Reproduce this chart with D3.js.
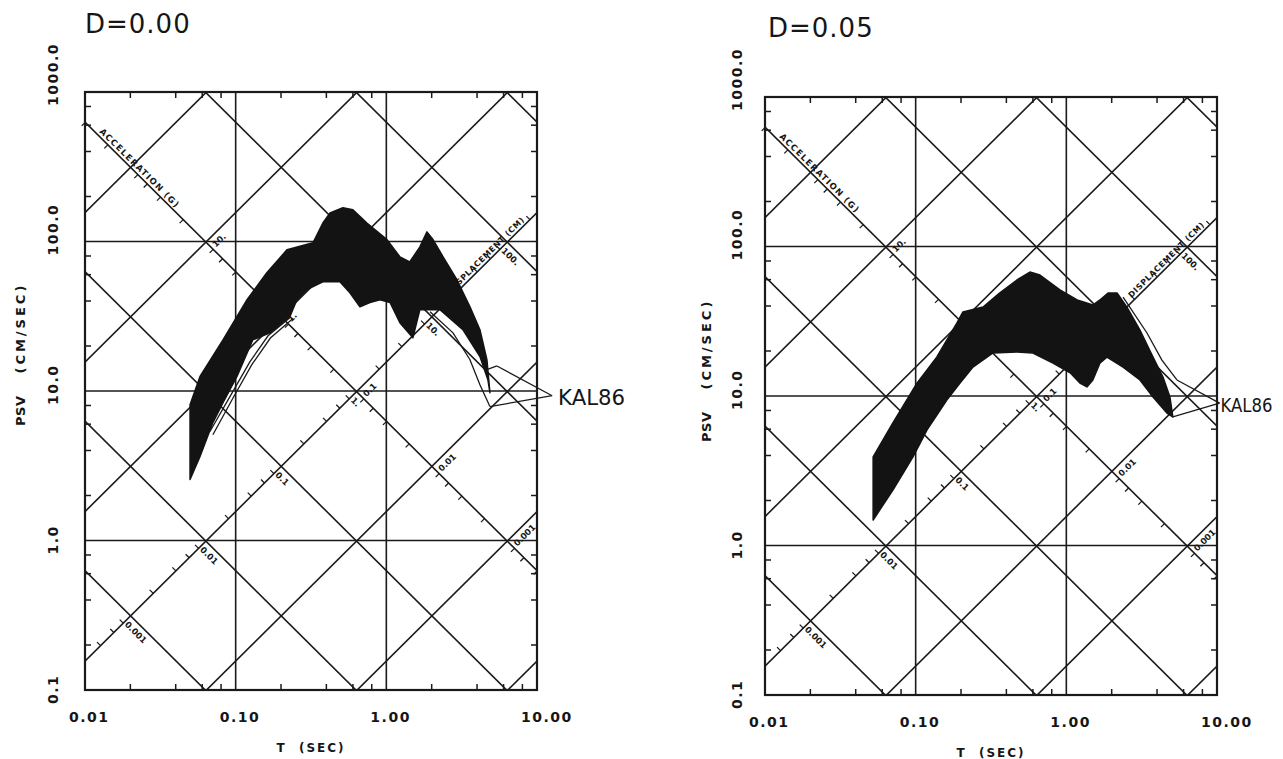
<!DOCTYPE html>
<html><head><meta charset="utf-8">
<script src="https://cdn.jsdelivr.net/npm/d3@7"></script>
<style>
html,body{margin:0;padding:0;background:#fff;}
svg{display:block;}
text{font-family:"DejaVu Sans",sans-serif;fill:#161616;}
</style></head><body>
<svg id="chart" width="1283" height="759"></svg>
<script>
// ---------------- data ----------------
const panelTitles = ["D=0.00", "D=0.05"];
const periodTicks = [0.01, 0.1, 1, 10];
const periodTickLabels = ["0.01", "0.10", "1.00", "10.00"];
const psvTicks = [0.1, 1, 10, 100, 1000];
const psvTickLabels = ["0.1", "1.0", "10.0", "100.0", "1000.0"];
const dispGridValues = [1e-5, 1e-4, 1e-3, 1e-2, 1e-1, 1, 10, 100, 1000, 1e4];   // cm
const accGridValues = [1e-5, 1e-4, 1e-3, 1e-2, 1e-1, 1, 10, 100, 1000, 1e4];    // g
const dispTickValues = [0.001, 0.01, 0.1, 1, 10, 100];
const dispTickLabels = ["0.001", "0.01", "0.1", "1.", "10.", "100."];
const accTickValues = [10, 1, 0.1, 0.01, 0.001];
const accTickLabels = ["10.", "1.", "0.1", "0.01", "0.001"];
const recordLabel = "KAL86";

// D = 0.00 : envelope of the spectra
const d0UpperT   = [0.0498,0.058,0.0824,0.119,0.161,0.219,0.326,0.379,0.423,0.515,0.600,0.743,1.01,1.23,1.43,1.67,1.86,2.04,2.38,2.94,3.59,4.18,4.65,4.87];
const d0UpperPSV = [8.1,12.5,22.0,40.8,61.8,88,98,133,155,168,163,133,103,79,73,92,116,103,79,55.5,36.6,25.7,16.2,9.75];
const d0LowerT   = [0.0498,0.058,0.0706,0.0824,0.102,0.130,0.169,0.229,0.255,0.297,0.379,0.492,0.573,0.668,0.778,0.907,1.06,1.23,1.50,1.67,1.86,2.27,3.22,4.18,4.72,4.87];
const d0LowerPSV = [2.56,3.65,6.15,8.37,12.5,22.0,24.5,31.4,40.8,47.6,53.8,53.8,45.4,36.6,39.0,40.8,39.0,28.6,22.7,35.0,35.0,35.0,25.7,17.0,11.9,9.75];
const d0OutlierAT   = [0.0675,0.0916,0.1245,0.164,0.229];
const d0OutlierAPSV = [5.36,9.18,15.7,23.4,30.9];
const d0OutlierBT   = [0.0706,0.095,0.128,0.17,0.24];
const d0OutlierBPSV = [5.1,8.8,15.0,22.6,30.5];
const d0KalLowerT   = [1.95,2.77,3.59,4.18,4.87];
const d0KalLowerPSV = [33.9,24.5,16.2,11.0,7.87];
const d0KalUpperT   = [4.65,5.42];
const d0KalUpperPSV = [13.9,14.7];
const d0LabelAt     = [12.6, 9.3];

// D = 0.05 : envelope of the spectra
const d5UpperT   = [0.0522,0.0706,0.102,0.138,0.188,0.206,0.280,0.362,0.470,0.573,0.668,0.907,1.18,1.50,1.67,1.89,2.17,2.52,3.08,3.76,4.38,4.87,5.09];
const d5UpperPSV = [3.91,6.6,12.2,18.2,30.8,36.5,39.4,48.9,59.7,67.5,64.4,51.2,43.9,40.6,43.9,48.9,48.9,39.4,27.6,18.2,13.4,9.85,7.24];
const d5LowerT   = [0.0522,0.0706,0.096,0.119,0.161,0.197,0.240,0.326,0.470,0.600,0.815,1.06,1.23,1.37,1.50,1.67,1.86,2.38,3.08,3.76,4.65,5.09];
const d5LowerPSV = [1.48,2.35,3.91,5.93,9.4,12.2,15.6,19.4,19.7,19.4,16.6,14.3,12.2,11.5,12.8,16.6,18.2,15.6,12.8,9.85,7.69,7.24];
const d5KalUpperT   = [2.38,3.43,4.31,5.42];
const d5KalUpperPSV = [45.9,26.4,17.4,12.8];
const d5KalLowerT   = [4.87,5.09];
const d5KalLowerPSV = [7.6,7.24];
const d5LabelAt     = [10.4, 8.97];

// ---------------- layout ----------------
const TWO_PI = 2 * Math.PI, G = 981;
const zip = (a, b) => a.map((v, i) => [v, b[i]]);

const panels = [
  { id: 0, title: panelTitles[0], x0: 85, x1: 537, y0: 92, y1: 690, titleX: 85, titleY: 33,
    yLabX: 58, psvTitleX: 25, psvTitleY: 426, labelDx: 6, labelSize: 22, labelLen: 67,
    upper: zip(d0UpperT, d0UpperPSV), lower: zip(d0LowerT, d0LowerPSV),
    thin: [zip(d0OutlierAT, d0OutlierAPSV), zip(d0OutlierBT, d0OutlierBPSV), zip(d0KalLowerT, d0KalLowerPSV), zip(d0KalUpperT, d0KalUpperPSV)],
    kalEnds: [zip(d0KalUpperT, d0KalUpperPSV), zip(d0KalLowerT, d0KalLowerPSV)], labelAt: d0LabelAt },
  { id: 1, title: panelTitles[1], x0: 765, x1: 1217, y0: 97, y1: 695, titleX: 768, titleY: 37,
    yLabX: 742, psvTitleX: 711, psvTitleY: 442, labelDx: 1, labelSize: 20, labelLen: 52,
    upper: zip(d5UpperT, d5UpperPSV), lower: zip(d5LowerT, d5LowerPSV),
    thin: [zip(d5KalUpperT, d5KalUpperPSV), zip(d5KalLowerT, d5KalLowerPSV)],
    kalEnds: [zip(d5KalUpperT, d5KalUpperPSV), zip(d5KalLowerT, d5KalLowerPSV)], labelAt: d5LabelAt }
];

const svg = d3.select("#chart");
const INK = "#1a1a1a";

function drawPanel(p) {
  const x = d3.scaleLog().domain([0.01, 10]).range([p.x0, p.x1]);
  const y = d3.scaleLog().domain([0.1, 1000]).range([p.y1, p.y0]);
  const line = d3.line().x(d => x(d[0])).y(d => y(d[1]));
  const pt = (t, v) => [x(t), y(v)];
  const inside = q => q[0] >= p.x0 - 0.5 && q[0] <= p.x1 + 0.5 && q[1] >= p.y0 - 0.5 && q[1] <= p.y1 + 0.5;
  const unit = (a, b) => { const dx = b[0] - a[0], dy = b[1] - a[1], L = Math.hypot(dx, dy); return [dx / L, dy / L]; };

  const clipId = "clip" + p.id;
  svg.append("clipPath").attr("id", clipId).append("rect")
    .attr("x", p.x0).attr("y", p.y0).attr("width", p.x1 - p.x0).attr("height", p.y1 - p.y0);

  const g = svg.append("g");
  const grid = g.append("g").attr("clip-path", `url(#${clipId})`)
    .attr("stroke", INK).attr("fill", "none").attr("stroke-width", 1.6);

  periodTicks.slice(1, -1).forEach(t =>
    grid.append("line").attr("x1", x(t)).attr("x2", x(t)).attr("y1", p.y0).attr("y2", p.y1));
  psvTicks.slice(1, -1).forEach(v =>
    grid.append("line").attr("x1", p.x0).attr("x2", p.x1).attr("y1", y(v)).attr("y2", y(v)));

  const Tdom = [0.001, 100];
  dispGridValues.forEach(sd => grid.append("path").attr("d", line(Tdom.map(t => [t, TWO_PI * sd / t]))));
  accGridValues.forEach(a => grid.append("path").attr("d", line(Tdom.map(t => [t, a * G * t / TWO_PI]))));

  // pixel directions of the diagonal families
  const u = unit(pt(0.1, TWO_PI * 1 / 0.1), pt(1, TWO_PI * 1 / 1));          // constant SD, down-right
  const v = unit(pt(0.1, 0.1 * G * 0.1 / TWO_PI), pt(1, 0.1 * G * 1 / TWO_PI)); // constant SA, up-right
  const angU = Math.atan2(u[1], u[0]) * 180 / Math.PI;
  const angV = Math.atan2(v[1], v[0]) * 180 / Math.PI;

  const diag = g.append("g");
  const accPos = a => { const T = TWO_PI * Math.sqrt(1 / (a * G)); return pt(T, TWO_PI / T); };
  const dispPos = sd => { const T = TWO_PI * Math.sqrt(sd / (0.1 * G)); return pt(T, TWO_PI * sd / T); };
  const minorM = [2, 4, 6, 8];
  for (let k = -5; k <= 3; k++) {
    minorM.forEach(m => {
      const a = m * Math.pow(10, k);
      const q = accPos(a);
      if (inside(q)) diag.append("line").attr("x1", q[0]).attr("y1", q[1])
        .attr("x2", q[0] - 5 * v[0]).attr("y2", q[1] - 5 * v[1]).attr("stroke", INK).attr("stroke-width", 1.3);
      const q2 = dispPos(a);
      if (inside(q2)) diag.append("line").attr("x1", q2[0]).attr("y1", q2[1])
        .attr("x2", q2[0] - 5 * u[0]).attr("y2", q2[1] - 5 * u[1]).attr("stroke", INK).attr("stroke-width", 1.3);
    });
  }
  accTickValues.forEach((a, i) => {
    const q = accPos(a);
    if (!inside(q)) return;
    const s = [q[0] + 11 * u[0] + 3 * v[0], q[1] + 11 * u[1] + 3 * v[1]];
    diag.append("text").attr("transform", `translate(${s[0]},${s[1]}) rotate(${angV})`)
      .attr("font-size", 8.5).attr("font-weight", "bold").text(accTickLabels[i]);
  });
  dispTickValues.forEach((sd, i) => {
    const q = dispPos(sd);
    if (!inside(q)) return;
    const s = [q[0] - 11 * v[0] + 2 * u[0], q[1] - 11 * v[1] + 2 * u[1]];
    diag.append("text").attr("transform", `translate(${s[0]},${s[1]}) rotate(${angU})`)
      .attr("font-size", 8.5).attr("font-weight", "bold").text(dispTickLabels[i]);
  });
  // titles of the diagonal scales
  const aStart = pt(0.012, TWO_PI / 0.012);
  diag.append("text")
    .attr("transform", `translate(${aStart[0] + 3 * v[0]},${aStart[1] + 3 * v[1]}) rotate(${angU})`)
    .attr("font-size", 8.5).attr("font-weight", "bold").attr("letter-spacing", 1.2)
    .text("ACCELERATION (G)");
  const dEnd = pt(8.6, 0.1 * G * 8.6 / TWO_PI);
  diag.append("text")
    .attr("transform", `translate(${dEnd[0] - 3 * u[0]},${dEnd[1] - 3 * u[1]}) rotate(${angV})`)
    .attr("text-anchor", "end")
    .attr("font-size", 8).attr("font-weight", "bold").attr("letter-spacing", 0.6)
    .text("DISPLACEMENT (CM)");

  // envelope of spectra
  const poly = p.upper.concat(p.lower.slice().reverse());
  g.append("path").attr("d", line(poly) + "Z")
    .attr("fill", "#131313").attr("stroke", "#131313").attr("stroke-width", 1.5).attr("stroke-linejoin", "round");
  p.thin.forEach(c => g.append("path").attr("d", line(c))
    .attr("fill", "none").attr("stroke", INK).attr("stroke-width", 1.3));

  // KAL86 leaders and label
  const lab = pt(p.labelAt[0], p.labelAt[1]);
  p.kalEnds.forEach(c => {
    const e = c[c.length - 1];
    const q = pt(e[0], e[1]);
    g.append("line").attr("x1", q[0]).attr("y1", q[1]).attr("x2", lab[0]).attr("y2", lab[1])
      .attr("stroke", INK).attr("stroke-width", 1.3);
  });
  g.append("text").attr("x", lab[0] + p.labelDx).attr("y", lab[1] + 9)
    .attr("font-family", "'Liberation Sans', Arial, sans-serif")
    .attr("font-size", p.labelSize).attr("textLength", p.labelLen).attr("lengthAdjust", "spacingAndGlyphs")
    .text(recordLabel);

  // frame and frame ticks
  const fr = g.append("g").attr("stroke", INK);
  fr.append("rect").attr("x", p.x0).attr("y", p.y0).attr("width", p.x1 - p.x0).attr("height", p.y1 - p.y0)
    .attr("fill", "none").attr("stroke-width", 2.2);
  [-2, -1, 0].forEach(k => minorM.forEach(m => {
    const xx = x(m * Math.pow(10, k));
    fr.append("line").attr("x1", xx).attr("x2", xx).attr("y1", p.y1).attr("y2", p.y1 - 6).attr("stroke-width", 1.5);
    fr.append("line").attr("x1", xx).attr("x2", xx).attr("y1", p.y0).attr("y2", p.y0 + 6).attr("stroke-width", 1.5);
  }));
  [-1, 0, 1, 2].forEach(k => minorM.forEach(m => {
    const yy = y(m * Math.pow(10, k));
    fr.append("line").attr("y1", yy).attr("y2", yy).attr("x1", p.x0).attr("x2", p.x0 + 6).attr("stroke-width", 1.5);
    fr.append("line").attr("y1", yy).attr("y2", yy).attr("x1", p.x1).attr("x2", p.x1 - 6).attr("stroke-width", 1.5);
  }));

  // axis labels
  periodTicks.forEach((t, i) => g.append("text").attr("x", x(t) - 16).attr("y", p.y1 + 32)
    .attr("font-size", 14).attr("font-weight", "bold").attr("letter-spacing", 1.5).text(periodTickLabels[i]));
  psvTicks.forEach((val, i) => g.append("text")
    .attr("transform", `translate(${p.yLabX},${y(val) + 14}) rotate(-90)`)
    .attr("font-size", 14).attr("font-weight", "bold").attr("letter-spacing", 1.5).text(psvTickLabels[i]));
  g.append("text").attr("x", (p.x0 + p.x1) / 2).attr("y", p.y1 + 62).attr("text-anchor", "middle")
    .attr("font-size", 12).attr("font-weight", "bold").attr("letter-spacing", 2)
    .style("white-space", "pre").text("T  (SEC)");
  const psvT = g.append("text").attr("transform", `translate(${p.psvTitleX},${p.psvTitleY}) rotate(-90)`)
    .attr("font-size", 13).attr("font-weight", "bold");
  psvT.append("tspan").attr("letter-spacing", 0.5).text("PSV");
  psvT.append("tspan").attr("dx", 22).attr("letter-spacing", 3).text("(CM/SEC)");
  g.append("text").attr("x", p.titleX).attr("y", p.titleY).attr("font-size", 26).attr("letter-spacing", 1)
    .text(p.title);
}

panels.forEach(drawPanel);
</script>
</body></html>
